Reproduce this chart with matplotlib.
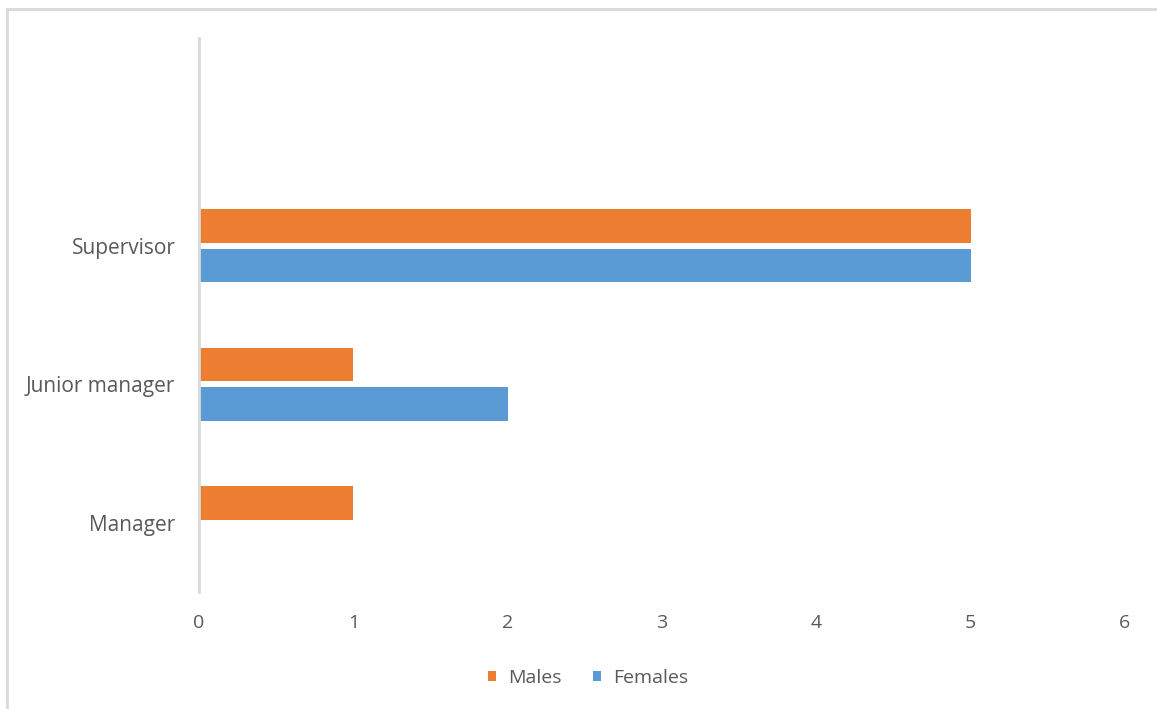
import matplotlib.pyplot as plt
import numpy as np
from matplotlib.lines import Line2D

# Data (bottom to top; top slot is an empty category)
categories = ['Manager', 'Junior manager', 'Supervisor', '']
males = [1, 1, 5, 0]
females = [0, 2, 5, 0]

orange = '#ED7D31'
blue = '#5B9BD5'
text_col = '#595959'

plt.rcParams['font.family'] = ['Open Sans', 'DejaVu Sans']

fig = plt.figure(figsize=(11.57, 7.09), dpi=100)
ax = fig.add_axes([199 / 1157, 117 / 709, 926 / 1157, 554 / 709])

y = np.arange(len(categories))
h = 0.245
gap = 0.02
ax.barh(y + h / 2 + gap, males, height=h, color=orange, label='Males')
ax.barh(y - h / 2 - gap, females, height=h, color=blue, label='Females')

ax.set_xlim(0, 6)
ax.set_ylim(-0.5, len(categories) - 0.5)
ax.set_xticks(range(7))
ax.set_yticks(y)
ax.set_yticklabels(categories)

for s in ['top', 'right', 'bottom']:
    ax.spines[s].set_visible(False)
ax.spines['left'].set_color('#d9d9d9')
ax.spines['left'].set_linewidth(2)
ax.tick_params(axis='both', length=0, labelcolor=text_col)
ax.tick_params(axis='y', pad=17, labelsize=15)
ax.tick_params(axis='x', pad=16, labelsize=14)

ax.legend(loc='upper center', bbox_to_anchor=(0.42, -0.107), ncol=2, frameon=False,
          fontsize=14, labelcolor=text_col, handlelength=0.45, handleheight=0.45,
          handletextpad=0.6, columnspacing=1.6)

# outer frame (top and left edges)
fig.add_artist(Line2D([7 / 1157, 1], [1 - 9 / 709, 1 - 9 / 709], color='#d9d9d9', lw=2))
fig.add_artist(Line2D([7 / 1157, 7 / 1157], [0, 1 - 9 / 709], color='#d9d9d9', lw=2))

fig.savefig('out.png', dpi=100)
